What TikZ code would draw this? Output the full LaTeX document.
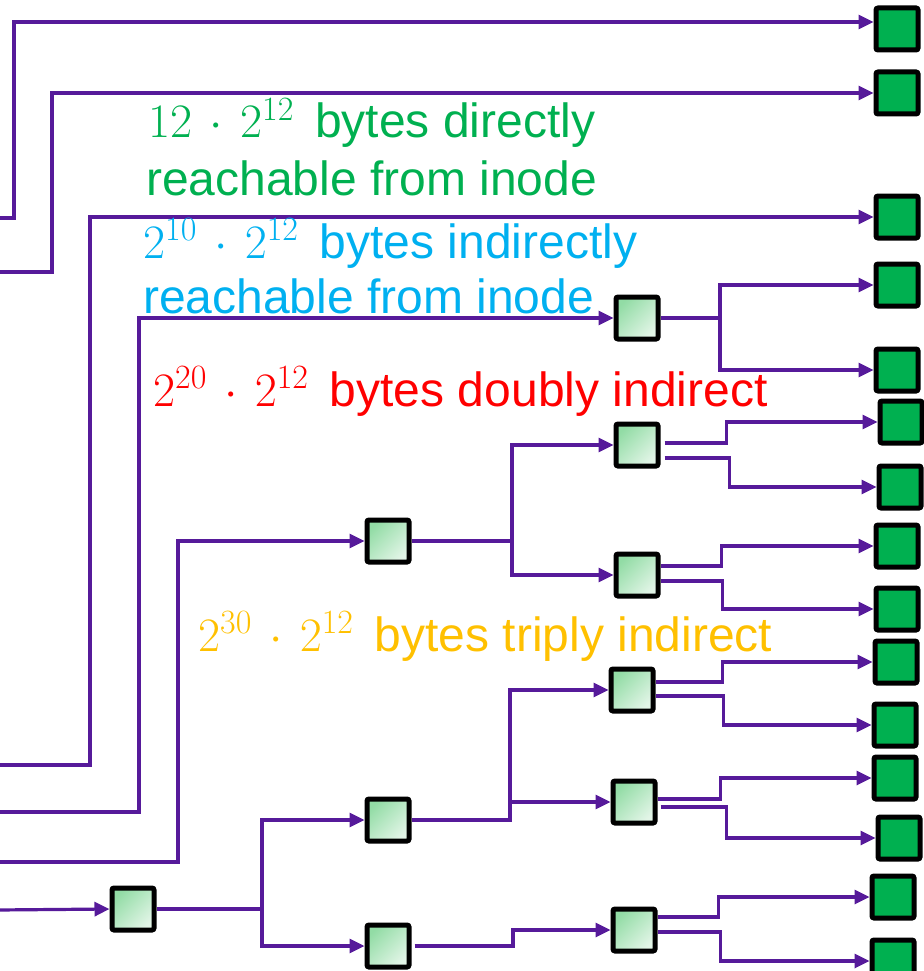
\RequirePackage{fix-cm}
\documentclass[tikz,border=0pt]{standalone}
\usepackage[no-math]{fontspec}
\setmainfont{Liberation Sans}
\usetikzlibrary{arrows.meta}
\newcommand{\mdot}{\mkern2.5mu\cdot\mkern2.5mu}
\newcommand{\bigsup}[1]{^{\hbox{\fontsize{34}{40}\selectfont$#1$}}}
\definecolor{wire}{RGB}{86,26,154}
\definecolor{blockgreen}{RGB}{0,176,80}
\definecolor{lgA}{RGB}{146,220,165}
\definecolor{lgB}{RGB}{226,245,231}
\definecolor{txtgreen}{RGB}{0,176,80}
\definecolor{txtblue}{RGB}{0,176,240}
\definecolor{txtred}{RGB}{255,0,0}
\definecolor{txtorange}{RGB}{255,192,0}
\begin{document}
\begin{tikzpicture}[x=1pt,y=-1pt,
  datablock/.style={draw=black, line width=5pt, fill=blockgreen, minimum size=42pt, inner sep=0pt, rounded corners=2pt},
  ptrblock/.style={draw=black, line width=5pt, top color=lgA, bottom color=lgB, shading angle=45, minimum size=42pt, inner sep=0pt, rounded corners=2pt},
  wireline/.style={draw=wire, line width=3.2pt},
  conn/.style={wireline, -{Triangle[length=15pt,width=14pt]}},
  lbl/.style={anchor=base west, inner sep=0pt, font=\fontsize{48}{56}\selectfont}
]
\useasboundingbox (0,0) rectangle (923,971);

% data blocks (right column)
\node[datablock] (G1) at (897,29) {};
\node[datablock] (G2) at (897,93) {};
\node[datablock] (G3) at (897,217) {};
\node[datablock] (G4) at (897,285) {};
\node[datablock] (G5) at (897,370) {};
\node[datablock] (G6) at (901,422) {};
\node[datablock] (G7) at (900,487) {};
\node[datablock] (G8) at (897,546) {};
\node[datablock] (G9) at (897,609) {};
\node[datablock] (G10) at (896,662) {};
\node[datablock] (G11) at (895,725) {};
\node[datablock] (G12) at (895,778) {};
\node[datablock] (G13) at (899,838) {};
\node[datablock] (G14) at (893,897) {};
\node[datablock] (G15) at (893,961) {};

% pointer blocks
\node[ptrblock] (L1) at (637,318) {};
\node[ptrblock] (L2) at (388,541) {};
\node[ptrblock] (L3) at (637,445) {};
\node[ptrblock] (L4) at (637,575) {};
\node[ptrblock] (T0) at (133,909) {};
\node[ptrblock] (T1) at (388,820) {};
\node[ptrblock] (T2) at (388,946) {};
\node[ptrblock] (T3) at (632,690) {};
\node[ptrblock] (T4) at (634,802) {};
\node[ptrblock] (T5) at (634,930) {};

% free ends at the left edge
\coordinate (s1) at (-3,218);
\coordinate (s2) at (-3,272);
\coordinate (s3) at (-3,765);
\coordinate (s4) at (-3,812);
\coordinate (s5) at (-3,862);
\coordinate (s6) at (-3,910);

% fork points
\coordinate (f1) at (720,318);
\coordinate (f2) at (512,541);
\coordinate (f3) at (262,909);
\coordinate (f4) at (510,820);

% inode pointers
\draw[conn] (s1) -| (14,22) -- ([yshift=7pt]G1.west);
\draw[conn] (s2) -| (52,93) -- (G2.west);
\draw[conn] (s3) -| (90,217) -- (G3.west);
\draw[conn] (s4) -| (139,318) -- (L1.west);
\draw[conn] (s5) -| (178,541) -- (L2.west);
\draw[conn] (s6) -- (T0.west);

% single indirect
\draw[conn] (L1.east) -- (f1) |- (G4.west);
\draw[conn] (f1) |- (G5.west);

% double indirect
\draw[conn] (L2.east) -- (f2) |- (L3.west);
\draw[conn] (f2) |- (L4.west);
\draw[conn] ([xshift=4pt,yshift=2pt]L3.east) -- ++(62,0) |- (G6.west);
\draw[conn] ([xshift=4pt,yshift=-13pt]L3.east) -- ++(65,0) |- (G7.west);
\draw[conn] ([yshift=9pt]L4.east) -- ++(61,0) |- (G8.west);
\draw[conn] ([yshift=-6pt]L4.east) -- ++(62,0) |- (G9.west);

% triple indirect
\draw[conn] (T0.east) -- (f3) |- (T1.west);
\draw[conn] (f3) |- (T2.west);
\draw[conn] (T1.east) -- (f4) |- (T3.west);
\draw[conn] (f4) |- (T4.west);
\draw[conn] ([xshift=3pt]T2.east) -- (513,946) |- (T5.west);
\draw[conn] ([yshift=8pt]T3.east) -- ++(67,0) |- (G10.west);
\draw[conn] ([yshift=-6pt]T3.east) -- ++(68,0) |- (G11.west);
\draw[conn] ([yshift=3pt]T4.east) -- ++(63,0) |- (G12.west);
\draw[conn] ([xshift=3pt,yshift=-5pt]T4.east) -- ++(66,0) |- (G13.west);
\draw[conn] ([yshift=13pt]T5.east) -- ++(61,0) |- (G14.west);
\draw[conn] ([yshift=-2pt]T5.east) -- ++(63,0) |- (G15.west);

% labels
\node[lbl, text=txtgreen] (tg1) at (148,138) {$12\mdot 2\bigsup{12}$\, bytes directly};
\node[lbl, text=txtgreen] (tg2) at (146,195) {reachable from inode};
\node[lbl, text=txtblue] (tb1) at (143,258) {$2\bigsup{10}\mdot 2\bigsup{12}$\, bytes indirectly};
\node[lbl, text=txtblue] (tb2) at (143,313) {reachable from inode};
\node[lbl, text=txtred] (tr) at (153,406) {$2\bigsup{20}\mdot 2\bigsup{12}$\, bytes doubly indirect};
\node[lbl, text=txtorange] (to) at (198,651) {$2\bigsup{30}\mdot 2\bigsup{12}$\, bytes triply indirect};
\end{tikzpicture}
\end{document}
